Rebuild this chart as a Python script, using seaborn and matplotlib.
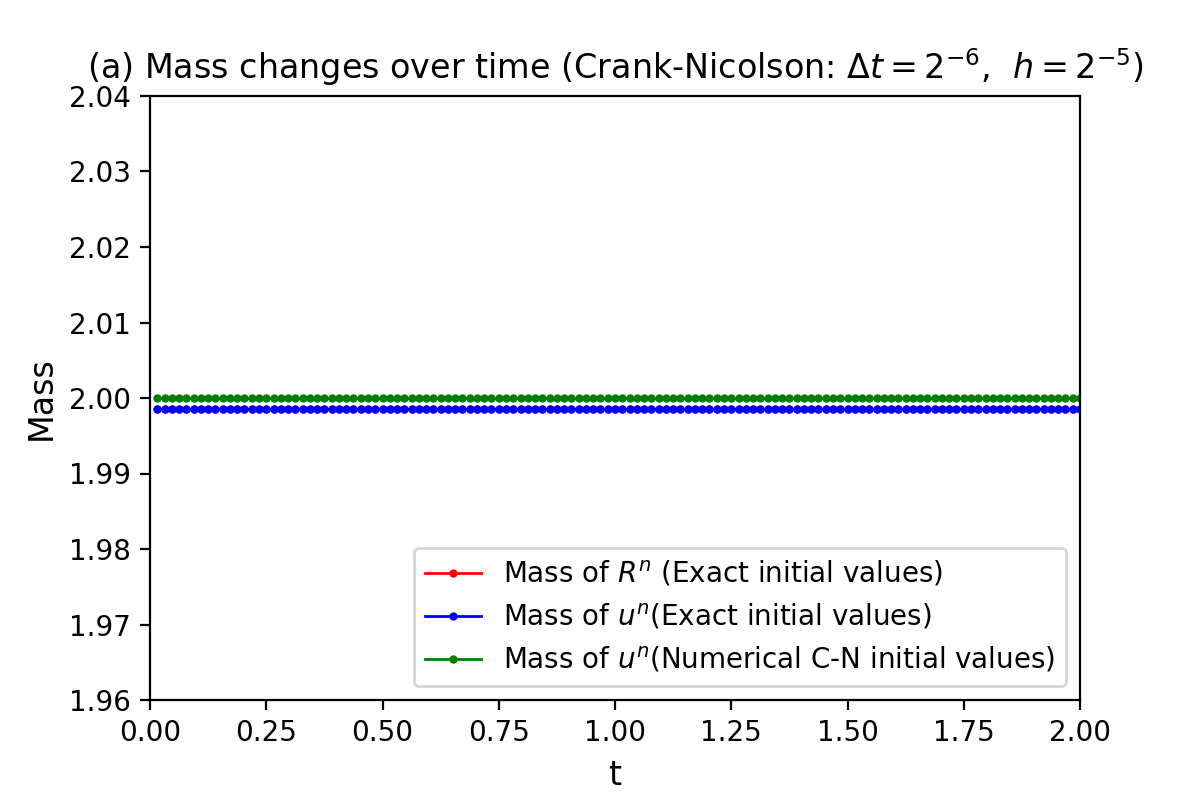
import numpy as np
import pandas as pd
import seaborn as sns
import matplotlib.pyplot as plt

# casova sit: dt = 2^-6, t od dt do 2
dt = 2 ** -6
n_steps = 128
t = np.arange(1, n_steps + 1) * dt

# hmotnost - konstantni v case
mass_R_exact = [1.9985] * n_steps
mass_u_exact = [1.9985] * n_steps
mass_u_cn = [2.0000] * n_steps

labels = [r'Mass of $R^n$ (Exact initial values)',
          r'Mass of $u^n$(Exact initial values)',
          r'Mass of $u^n$(Numerical C-N initial values)']
colors = ['red', 'blue', 'green']

df = pd.concat([
    pd.DataFrame({'t': t, 'Mass': mass_R_exact, 'serie': labels[0]}),
    pd.DataFrame({'t': t, 'Mass': mass_u_exact, 'serie': labels[1]}),
    pd.DataFrame({'t': t, 'Mass': mass_u_cn, 'serie': labels[2]}),
], ignore_index=True)

fig, ax = plt.subplots(figsize=(6, 4), dpi=200)
fig.subplots_adjust(left=0.125, right=0.9, top=0.88, bottom=0.125)

sns.lineplot(data=df, x='t', y='Mass', hue='serie', palette=colors,
             marker='o', markersize=3, markeredgewidth=0, linewidth=1,
             ax=ax, estimator=None, sort=False)

ax.set_xlim(0, 2)
ax.set_ylim(1.96, 2.04)
ax.set_xticks(np.arange(0, 2.01, 0.25))
ax.set_yticks(np.arange(1.96, 2.041, 0.01))
ax.set_xlabel('t', fontsize=12)
ax.set_ylabel('Mass', fontsize=12)
ax.set_title(r'(a) Mass changes over time (Crank-Nicolson: $\Delta t = 2^{-6}$,  $h = 2^{-5}$)',
             fontsize=12)
ax.legend(loc='lower right', fontsize=10, title=None)

fig.savefig('out.png', dpi=200)
